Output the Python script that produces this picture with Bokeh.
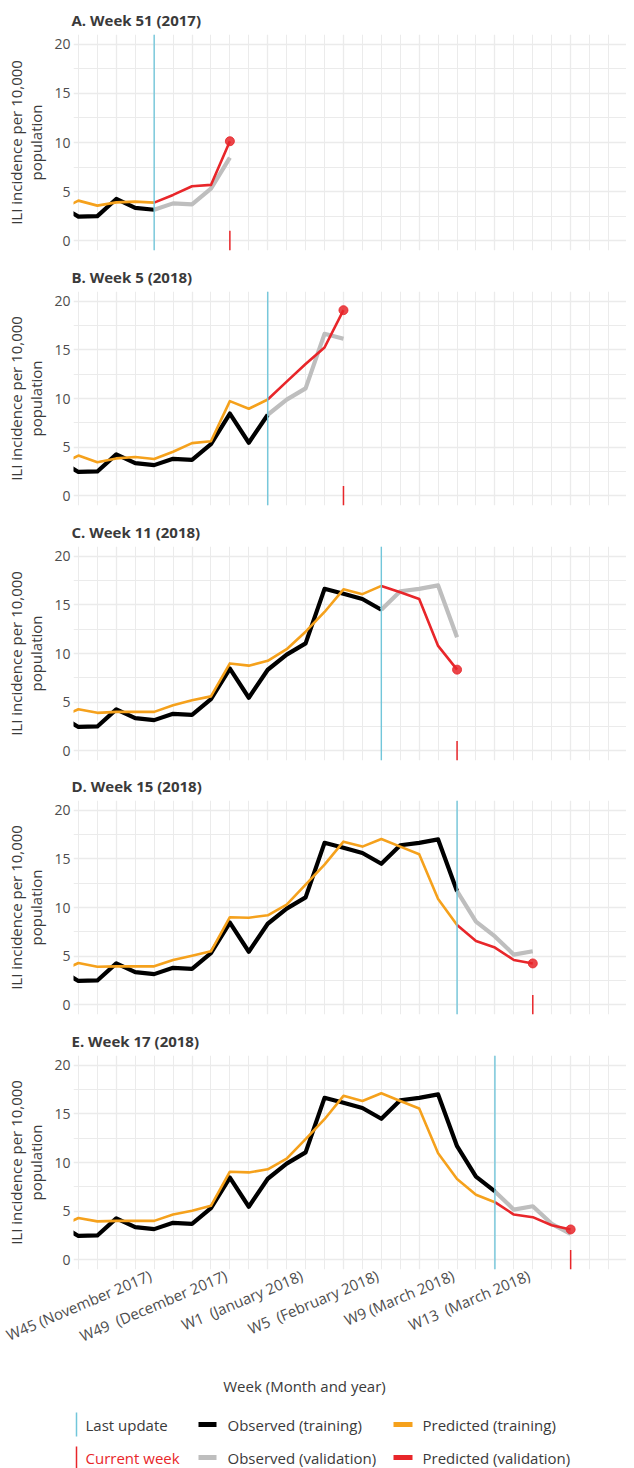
import math
from bokeh.plotting import figure
from bokeh.layouts import column
from bokeh.models import Range1d, FixedTicker, Grid, Span, LinearAxis
from bokeh.core.properties import value
from bokeh.embed import file_html
from bokeh.resources import INLINE

# ---------------- data ----------------
# week index: 0 = W45 (2017), 7 = W52, 8 = W1 (2018), ... 24 = W17 (2018)
week_index = list(range(-3, 25))
tick_weeks = [0, 4, 8, 12, 16, 20]
tick_labels = ["W45 (November 2017)", "W49\u00a0 (December 2017)", "W1\u00a0 (January 2018)",
               "W5\u00a0 (February 2018)", "W9 (March 2018)", "W13\u00a0 (March 2018)"]

observed = [3.6, 2.45, 2.5, 4.25, 3.35, 3.15, 3.8, 3.7, 5.3, 8.45, 5.45, 8.33, 9.88, 11.04,
            16.65, 16.15, 15.6, 14.5, 16.4, 16.65, 17.0, 11.68, 8.55, 7.03, 5.15, 5.5, 3.7, 2.65]

panel_titles = ["A. Week 51 (2017)", "B. Week 5 (2018)", "C. Week 11 (2018)",
                "D. Week 15 (2018)", "E. Week 17 (2018)"]
last_update = [2, 8, 14, 18, 20]
current_week = [6, 12, 18, 22, 24]

pred_train_A = [3.1, 4.08, 3.57, 3.9, 3.98, 3.88]
pred_valid_A = [3.88, 4.66, 5.54, 5.68, 10.13]

pred_train_B = [3.2, 4.13, 3.44, 3.84, 3.98, 3.78, 4.53, 5.41, 5.61, 9.73, 8.95, 9.9]
pred_valid_B = [9.9, 11.73, 13.54, 15.24, 19.08]

pred_train_C = [3.4, 4.27, 3.9, 4.0, 4.0, 4.0, 4.68, 5.19, 5.59, 8.98, 8.75, 9.25, 10.44,
                12.24, 14.27, 16.6, 16.1, 16.95]
pred_valid_C = [16.95, 16.3, 15.6, 10.78, 8.34]

pred_train_D = [3.4, 4.29, 3.91, 3.95, 3.95, 3.95, 4.6, 5.03, 5.5, 9.0, 8.95, 9.2, 10.3,
                12.35, 14.4, 16.77, 16.26, 17.04, 16.26, 15.48, 10.88, 8.2]
pred_valid_D = [8.2, 6.56, 5.88, 4.6, 4.25]

pred_train_E = [3.4, 4.3, 3.95, 4.0, 4.0, 4.0, 4.65, 5.05, 5.55, 9.05, 8.98, 9.3, 10.4,
                12.4, 14.45, 16.85, 16.33, 17.12, 16.33, 15.55, 10.95, 8.3, 6.68, 5.92]
pred_valid_E = [5.92, 4.65, 4.38, 3.55, 3.12]

pred_train = [pred_train_A, pred_train_B, pred_train_C, pred_train_D, pred_train_E]
pred_valid = [pred_valid_A, pred_valid_B, pred_valid_C, pred_valid_D, pred_valid_E]

legend_labels = ["Last update", "Current week", "Observed (training)",
                 "Observed (validation)", "Predicted (training)", "Predicted (validation)"]

# ---------------- style ----------------
C_BLACK = "#000000"
C_GREY = "#bebebe"
C_ORANGE = "#f5a11c"
C_RED = "#e8262a"
C_BLUE = "#72c6da"
C_GRID = "#ebebeb"
TXT = "#3a3a3a"
FONT = "Open Sans"

W = 626
LEFT = 73
X0, X1 = -2.26, 26.95
Y0, Y1 = -1, 21
tops = [34, 30, 30, 30, 30]
bottoms = [9, 9, 8, 9, 96]
FRAME_H = 216
LABEL_SHIFT = 1.8      # rotated labels: right end sits ~1.8 weeks right of the break
LABEL_ANGLE = math.radians(23)

major_weeks = list(range(0, 27, 4))
minor_weeks = [w for w in range(-2, 27) if w not in major_weeks]

shared_x = Range1d(X0, X1)

panels = []
for k in range(5):
    p = figure(width=W, height=tops[k] + FRAME_H + bottoms[k], x_range=shared_x,
               y_range=Range1d(Y0, Y1), x_axis_type=None, output_backend="svg",
               toolbar_location=None, min_border_left=LEFT, min_border_right=0,
               min_border_top=tops[k], min_border_bottom=bottoms[k], title=panel_titles[k])
    p.outline_line_color = None
    p.background_fill_color = "white"
    p.title.text_font = FONT
    p.title.text_font_size = "15px"
    p.title.text_font_style = "bold"
    p.title.text_color = TXT
    p.title.offset = -2
    p.title.standoff = 10

    p.add_layout(Grid(dimension=0, ticker=FixedTicker(ticks=major_weeks, minor_ticks=minor_weeks),
                      grid_line_color=C_GRID, grid_line_width=1.3,
                      minor_grid_line_color=C_GRID, minor_grid_line_width=1.0))
    yt = FixedTicker(ticks=[0, 5, 10, 15, 20], minor_ticks=[2.5, 7.5, 12.5, 17.5])
    p.yaxis.ticker = yt
    p.ygrid.ticker = yt
    p.ygrid.grid_line_color = C_GRID
    p.ygrid.grid_line_width = 1.3
    p.ygrid.minor_grid_line_color = C_GRID
    p.ygrid.minor_grid_line_width = 1.0

    ax = p.yaxis[0]
    ax.axis_line_color = None
    ax.major_tick_line_color = None
    ax.minor_tick_line_color = None
    ax.major_tick_out = 0
    ax.major_tick_in = 0
    ax.minor_tick_out = 0
    ax.major_label_standoff = 3
    ax.major_label_text_font = FONT
    ax.major_label_text_font_size = "14px"
    ax.major_label_text_color = "#4d4d4d"
    ax.axis_label = "ILI incidence per 10,000\npopulation"
    ax.axis_label_text_font = FONT
    ax.axis_label_text_font_size = "15px"
    ax.axis_label_text_font_style = "normal"
    ax.axis_label_text_color = TXT
    ax.axis_label_text_line_height = 1.0
    ax.axis_label_standoff = 5

    L = last_update[k]
    C = current_week[k]
    iL = week_index.index(L)
    iC = week_index.index(C)
    pt = pred_train[k]
    pv = pred_valid[k]

    p.line(week_index[:iL + 1], observed[:iL + 1], line_color=C_BLACK, line_width=4.2, line_join="round")
    p.line(week_index[iL:iC + 1], observed[iL:iC + 1], line_color=C_GREY, line_width=4.2, line_join="round")
    p.line(week_index[:len(pt)], pt, line_color=C_ORANGE, line_width=2.6, line_join="round")
    p.line(week_index[iL:iL + len(pv)], pv, line_color=C_RED, line_width=2.6, line_join="round")
    p.scatter([C], [pv[-1]], size=9, fill_color=C_RED, line_color=C_RED, alpha=0.85)
    p.segment(x0=[C], y0=[Y0], x1=[C], y1=[1], line_color=C_RED, line_width=1.5)
    p.add_layout(Span(location=L, dimension="height", line_color=C_BLUE, line_width=1.4))
    panels.append(p)

# x axis (rotated week labels) on the last panel
pe = panels[-1]
shifted = [t + LABEL_SHIFT for t in tick_weeks]
xax = LinearAxis(ticker=FixedTicker(ticks=shifted),
                 major_label_overrides={s: lab for s, lab in zip(shifted, tick_labels)})
xax.axis_line_color = None
xax.major_tick_line_color = None
xax.minor_tick_line_color = None
xax.major_tick_out = 0
xax.major_tick_in = 0
xax.minor_tick_out = 0
xax.major_label_orientation = LABEL_ANGLE
xax.major_label_standoff = 5
xax.major_label_text_font = FONT
xax.major_label_text_font_size = "15px"
xax.major_label_text_color = "#4d4d4d"
pe.add_layout(xax, "below")

# ---------------- legend ----------------
LEG_H = 103
leg = figure(width=W, height=LEG_H, x_range=Range1d(LEFT, W), y_range=Range1d(LEG_H, 0),
             x_axis_type=None, y_axis_type=None, output_backend="svg", toolbar_location=None,
             min_border_left=LEFT, min_border_right=0, min_border_top=0, min_border_bottom=0)
leg.outline_line_color = None
leg.xgrid.visible = False
leg.ygrid.visible = False

leg.text(x=[304], y=[20], text=["Week (Month and year)"], text_align="center", text_baseline="middle",
         text_font=value(FONT), text_font_size="15px", text_color=TXT)

r1, r2 = 59, 92
leg.segment(x0=[76, 76], y0=[r1 - 12, r2 - 11], x1=[76, 76], y1=[r1 + 12, LEG_H],
            line_color=[C_BLUE, C_RED], line_width=1.5)
leg.segment(x0=[198, 198, 393, 393], y0=[r1, r2, r1, r2], x1=[216, 216, 412, 412], y1=[r1, r2, r1, r2],
            line_color=[C_BLACK, C_GREY, C_ORANGE, C_RED], line_width=5)
leg.text(x=[85, 85, 227, 227, 422, 422], y=[r1, r2, r1, r2, r1, r2], text=legend_labels,
         text_align="left", text_baseline="middle", text_font=value(FONT), text_font_size="15px",
         text_color=[TXT, C_RED, TXT, TXT, TXT, TXT])

layout = column(*panels, leg, spacing=0)
open("out.html", "w").write(file_html(layout, INLINE))
